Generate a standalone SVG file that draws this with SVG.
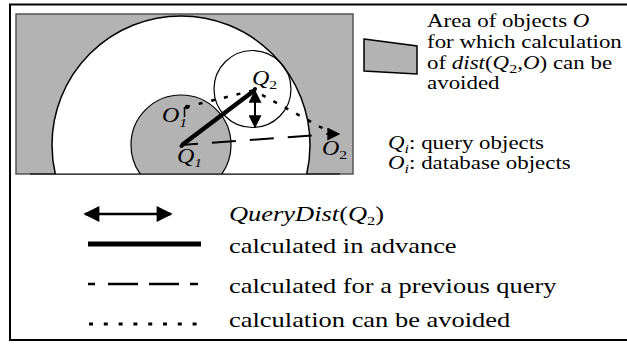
<svg xmlns="http://www.w3.org/2000/svg" width="627" height="344" viewBox="0 0 627 344">
<defs>
<style>
.t{font-family:"Liberation Serif","Times New Roman",serif;fill:#000}
.r{font-size:18.5px}
.b{font-size:21px}
.l{font-size:20px}
.i{font-style:italic}
.sub{font-size:13px}
.thin{fill:none;stroke:#000;stroke-width:1.5}
</style>
<clipPath id="clipArea"><rect x="16" y="14" width="337" height="160"/></clipPath>
<marker id="ah" viewBox="0 0 10 10" refX="9" refY="5" markerWidth="17" markerHeight="16" markerUnits="userSpaceOnUse" orient="auto-start-reverse">
<path d="M0,0 L10,5 L0,10 Z" fill="#000"/>
</marker>
<marker id="ahs" viewBox="0 0 10 10" refX="9" refY="5" markerWidth="14" markerHeight="13" markerUnits="userSpaceOnUse" orient="auto-start-reverse">
<path d="M0,0 L10,5 L0,10 Z" fill="#000"/>
</marker>
</defs>
<rect x="0" y="0" width="627" height="344" fill="#fff"/>
<rect id="frame" x="10" y="4.5" width="640" height="335.5" fill="none" stroke="#000" stroke-width="2"/>

<g id="area">
<rect x="16" y="14" width="337" height="160" fill="#b3b3b3" stroke="#555" stroke-width="1.5"/>
<g clip-path="url(#clipArea)">
<circle cx="181" cy="145" r="129" fill="#fff" stroke="#000" stroke-width="1.5"/>
<circle cx="181" cy="145" r="50" fill="#b3b3b3" stroke="#000" stroke-width="1.2"/>
</g>
<line x1="30" y1="174" x2="340" y2="174" stroke="#000" stroke-width="1"/>
</g>

<g id="q2-circle">
<circle cx="252.5" cy="89" r="38.5" fill="none" stroke="#000" stroke-width="1.2"/>
</g>

<g id="connectors">
<line x1="186" y1="107" x2="255" y2="90" stroke="#000" stroke-width="2.5" stroke-dasharray="4 9"/>
<line x1="255" y1="91" x2="333" y2="134" stroke="#000" stroke-width="2.5" stroke-dasharray="4 9" stroke-dashoffset="-8"/>
<line x1="181" y1="145" x2="313" y2="135.5" stroke="#000" stroke-width="2" stroke-dasharray="24 14" stroke-dashoffset="7"/>
<line x1="182" y1="145" x2="255" y2="90" stroke="#000" stroke-width="4.5"/>
<line x1="255" y1="91" x2="255" y2="127" stroke="#000" stroke-width="2" marker-start="url(#ahs)" marker-end="url(#ahs)"/>
</g>

<g id="point-q1">
<circle cx="181.5" cy="146" r="2" fill="#000"/>
<text class="t l" transform="translate(177 163) scale(1.2 1)"><tspan class="i">Q</tspan><tspan class="sub i" dy="4">1</tspan></text>
</g>
<g id="point-o1">
<circle cx="187" cy="107" r="2.2" fill="#000"/>
<line x1="184.5" y1="107" x2="184.5" y2="117" stroke="#000" stroke-width="1.5"/>
<text class="t l" transform="translate(162 122) scale(1.2 1)"><tspan class="i">O</tspan><tspan class="sub i" dy="5">1</tspan></text>
</g>
<g id="point-q2">
<circle cx="255" cy="89" r="2" fill="#000"/>
<text class="t l" transform="translate(252 85) scale(1.2 1)"><tspan class="i">Q</tspan><tspan class="sub" dy="4">2</tspan></text>
</g>
<g id="point-o2">
<line x1="326" y1="134" x2="339" y2="134" stroke="#000" stroke-width="1.5" marker-end="url(#ahs)"/>
<circle cx="333" cy="134" r="2" fill="#000"/>
<text class="t l" transform="translate(322 155) scale(1.2 1)"><tspan class="i">O</tspan><tspan class="sub" dy="4">2</tspan></text>
</g>

<g id="legend-area">
<polygon points="364,39 417,46 417,74 364,71" fill="#b3b3b3" stroke="#000" stroke-width="1.5"/>
<text class="t r" transform="translate(427 27) scale(1.24 1)">Area of objects <tspan class="i">O</tspan></text>
<text class="t r" transform="translate(427 48) scale(1.24 1)">for which calculation</text>
<text class="t r" transform="translate(427 69) scale(1.24 1)">of <tspan class="i">dist</tspan>(<tspan class="i">Q</tspan><tspan class="sub" dy="4">2</tspan><tspan dy="-4">,</tspan><tspan class="i">O</tspan>) can be</text>
<text class="t r" transform="translate(427 89) scale(1.24 1)">avoided</text>
</g>

<g id="legend-symbols">
<text class="t r" transform="translate(388 149) scale(1.24 1)"><tspan class="i">Q</tspan><tspan class="sub i" dy="4">i</tspan><tspan dy="-4">: query objects</tspan></text>
<text class="t r" transform="translate(388 169) scale(1.24 1)"><tspan class="i">O</tspan><tspan class="sub i" dy="4">i</tspan><tspan dy="-4">: database objects</tspan></text>
</g>

<g id="legend-lines">
<line x1="85" y1="214" x2="171" y2="214" stroke="#000" stroke-width="2.5" marker-start="url(#ah)" marker-end="url(#ah)"/>
<line x1="88" y1="244" x2="201" y2="244" stroke="#000" stroke-width="5"/>
<line x1="88" y1="284" x2="201" y2="284" stroke="#000" stroke-width="2.5" stroke-dasharray="7 13 30 11 30 11 8"/>
<line x1="89" y1="324" x2="201" y2="324" stroke="#000" stroke-width="3" stroke-dasharray="4 10.8"/>
<text class="t b" transform="translate(229 221) scale(1.26 1)"><tspan class="i">QueryDist</tspan>(<tspan class="i">Q</tspan><tspan class="sub" dy="4">2</tspan><tspan dy="-4">)</tspan></text>
<text class="t b" transform="translate(229 253) scale(1.26 1)">calculated in advance</text>
<text class="t b" transform="translate(229 293) scale(1.26 1)">calculated for a previous query</text>
<text class="t b" transform="translate(229 327) scale(1.26 1)">calculation can be avoided</text>
</g>
</svg>
